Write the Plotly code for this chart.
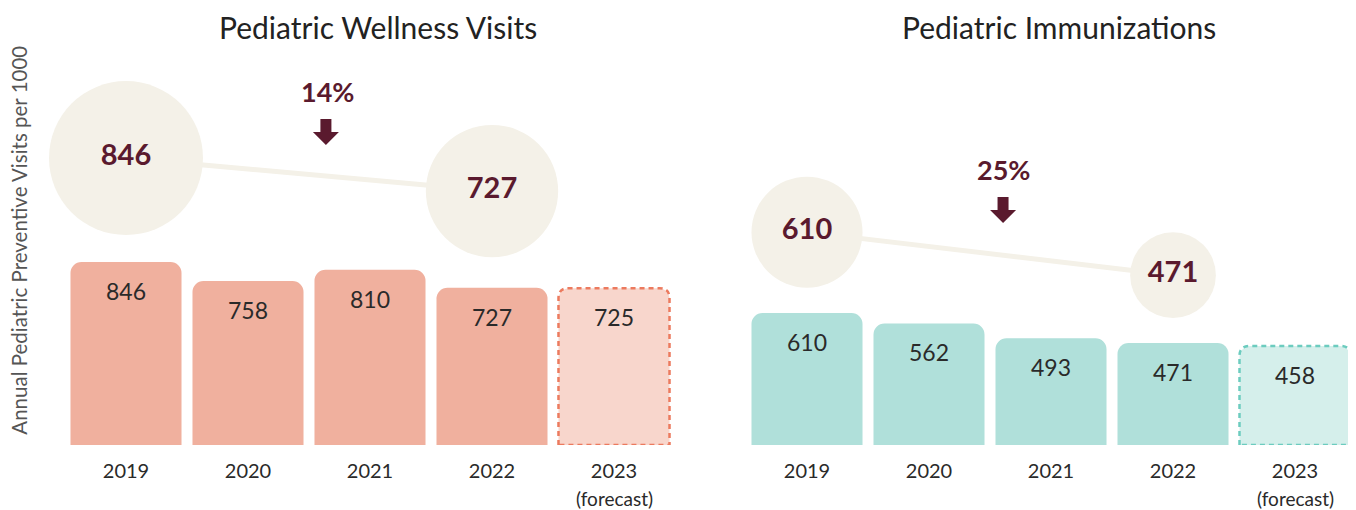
import plotly.graph_objects as go

# ---- data ----
years = ["2019", "2020", "2021", "2022", "2023"]
forecast_note = "(forecast)"
wellness = [846, 758, 810, 727, 725]
immunizations = [610, 562, 493, 471, 458]
titles = ["Pediatric Wellness Visits", "Pediatric Immunizations"]
change_labels = ["14%", "25%"]
bubble_years = ["2019", "2022"]
y_title = "Annual Pediatric Preventive Visits per 1000"

FONT = "Lato"
MAROON = "#5A1A2E"
BUBBLE = "#F4F1E8"
TEXT = "#2A2A2A"

panels = [
    dict(values=wellness, bar="#F0B09E", fc_fill="#F8D6CC", fc_line="#EC7A5E",
         x="x", y="y", yb="y3", xdom=[0, 0.4725], brange=[-189, 1380],
         title_x=0.2424, pct=(0.2035, 0.8115), arrow=(0.2021, 0.7195)),
    dict(values=immunizations, bar="#B0E0DA", fc_fill="#D5EFEB", fc_line="#6CCCBF",
         x="x2", y="y2", yb="y4", xdom=[0.5275, 1.0], brange=[-78, 1328],
         title_x=0.7700, pct=(0.7266, 0.6322), arrow=(0.7266, 0.5402)),
]

BAR_W = 0.91
BAR_RANGE = [0, 2011]

fig = go.Figure()
shapes = []
annotations = []
xs = list(range(len(years)))

for k, p in enumerate(panels):
    vals = p["values"]
    n = len(vals)
    colors = [p["bar"]] * (n - 1) + [p["fc_fill"]]
    fig.add_trace(go.Bar(
        x=xs, y=vals, width=BAR_W, xaxis=p["x"], yaxis=p["y"],
        marker=dict(color=colors, line=dict(width=0), cornerradius=11),
        hoverinfo="skip", showlegend=False,
    ))
    # dashed outline of forecast bar (computed from its value via axis scale)
    v = vals[-1]
    i = xs[-1]
    x0, x1 = i - BAR_W / 2, i + BAR_W / 2
    px_per_x = 122.0
    px_per_y = 435.0 / (BAR_RANGE[1] - BAR_RANGE[0])
    rx, ry = 10 / px_per_x, 10 / px_per_y
    path = (f"M {x0},0 L {x0},{v - ry} Q {x0},{v} {x0 + rx},{v} "
            f"L {x1 - rx},{v} Q {x1},{v} {x1},{v - ry} L {x1},0 Z")
    shapes.append(dict(type="path", path=path, xref=p["x"], yref=p["y"],
                       line=dict(color=p["fc_line"], width=2.5, dash="5px,4px"),
                       fillcolor="rgba(0,0,0,0)", layer="above"))
    # bar value labels
    for xi, val in zip(xs, vals):
        annotations.append(dict(x=xi, y=val, xref=p["x"], yref=p["y"], yshift=-29,
                                text=str(val), showarrow=False, yanchor="middle",
                                font=dict(family=FONT, size=23, color=TEXT)))
    # forecast note under tick
    annotations.append(dict(x=xs[-1], y=0, xref=p["x"], yref=p["y"], yshift=-53,
                            text=forecast_note, showarrow=False, yanchor="middle",
                            font=dict(family=FONT, size=19, color=TEXT)))
    # bubbles
    bi = [years.index(b) for b in bubble_years]
    bv = [vals[j] for j in bi]
    fig.add_trace(go.Scatter(
        x=bi, y=bv, xaxis=p["x"], yaxis=p["yb"], mode="lines+markers+text",
        line=dict(color=BUBBLE, width=5),
        marker=dict(size=[b * 0.182 for b in bv], color=BUBBLE, line=dict(width=0), opacity=1),
        text=[str(b) for b in bv], textposition="middle center",
        textfont=dict(family=FONT, size=29, color=MAROON, weight="bold"),
        hoverinfo="skip", showlegend=False, cliponaxis=False,
    ))
    # title
    annotations.append(dict(x=p["title_x"], y=0.961, xref="paper", yref="paper",
                            text=titles[k], showarrow=False, xanchor="center", yanchor="middle",
                            font=dict(family=FONT, size=30, color="#222222")))
    # percent change
    annotations.append(dict(x=p["pct"][0], y=p["pct"][1], xref="paper", yref="paper",
                            text=change_labels[k], showarrow=False, xanchor="center", yanchor="middle",
                            font=dict(family=FONT, size=27, color=MAROON, weight="bold")))
    ax, ay = p["arrow"]
    shapes.append(dict(type="path", xref="paper", yref="paper", xsizemode="pixel", ysizemode="pixel",
                       xanchor=ax, yanchor=ay,
                       path="M -5.5,13 L 5.5,13 L 5.5,0 L 13,0 L 0,-13 L -13,0 L -5.5,0 Z",
                       fillcolor=MAROON, line=dict(width=0)))

annotations.append(dict(x=-0.0352, y=0.471, xref="paper", yref="paper", text=y_title,
                        textangle=-90, showarrow=False, xanchor="center", yanchor="middle",
                        font=dict(family=FONT, size=20.5, color="#555555")))

xcommon = dict(range=[-0.5, 4.5], tickvals=xs, ticktext=years, showgrid=False, zeroline=False,
               showline=False, ticks="", ticklabelstandoff=12,
               tickfont=dict(family=FONT, size=20, color=TEXT), fixedrange=True)
ycommon = dict(showgrid=False, zeroline=False, showline=False, showticklabels=False,
               ticks="", visible=False, fixedrange=True)

fig.update_layout(
    width=1348, height=502,
    margin=dict(l=57, r=0, t=2, b=65),
    paper_bgcolor="white", plot_bgcolor="white",
    xaxis=dict(domain=panels[0]["xdom"], anchor="y", **xcommon),
    xaxis2=dict(domain=panels[1]["xdom"], anchor="y2", **xcommon),
    yaxis=dict(domain=[0, 1], anchor="x", range=BAR_RANGE, **ycommon),
    yaxis2=dict(domain=[0, 1], anchor="x2", range=BAR_RANGE, **ycommon),
    yaxis3=dict(overlaying="y", anchor="x", range=panels[0]["brange"], **ycommon),
    yaxis4=dict(overlaying="y2", anchor="x2", range=panels[1]["brange"], **ycommon),
    shapes=shapes, annotations=annotations,
    bargap=0.09, showlegend=False,
    font=dict(family=FONT),
)

fig.write_html("out.html")
